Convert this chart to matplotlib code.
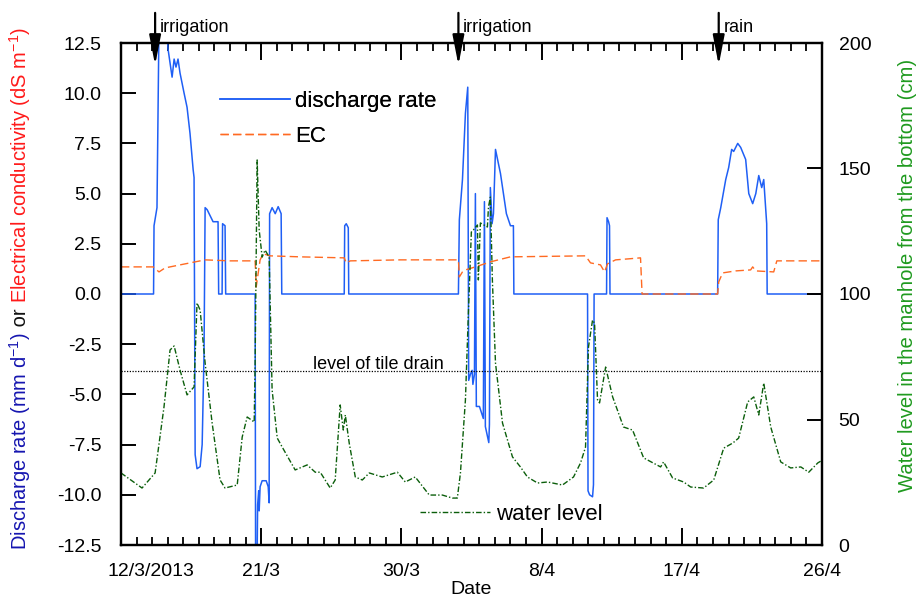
import matplotlib
matplotlib.use("Agg")
import matplotlib.pyplot as plt
import matplotlib.transforms as mtransforms
from matplotlib.ticker import MultipleLocator, FixedLocator

plt.rcParams['font.family'] = ['Liberation Sans', 'DejaVu Sans']
plt.rcParams['mathtext.fontset'] = 'custom'
plt.rcParams['mathtext.rm'] = 'Liberation Sans'
plt.rcParams['mathtext.it'] = 'Liberation Sans:italic'

# days since 12/3/2013
q_day = [0, 2.09, 2.12, 2.31, 2.44, 2.70, 2.96, 3.02, 3.15, 3.28, 3.41, 3.53, 3.66, 3.79,
         4.05, 4.24, 4.43, 4.63, 4.69, 4.76, 4.88, 5.08, 5.21, 5.33, 5.40, 5.53, 5.72, 5.91,
         6.23, 6.27, 6.49, 6.52, 6.68, 6.72, 8.61, 8.64, 8.74, 8.77, 8.84, 8.87, 8.93, 9.06,
         9.32, 9.45, 9.51, 9.54, 9.70, 9.90, 10.09, 10.28, 10.32, 14.33, 14.36, 14.46, 14.59,
         14.62, 21.66, 21.72, 21.92, 22.11, 22.26, 22.32, 22.43, 22.54, 22.59, 22.69, 22.75,
         22.81, 23.01, 23.26, 23.33, 23.39, 23.61, 23.65, 23.71, 23.82, 23.91, 24.04, 24.36,
         24.55, 24.74, 25.0, 25.19, 25.22, 29.95, 29.98, 30.08, 30.27, 30.33, 30.37, 31.17,
         31.20, 31.30, 31.36, 31.39, 38.30, 38.34, 38.50, 38.82, 39.01, 39.20, 39.33, 39.59,
         39.78, 40.10, 40.30, 40.55, 40.75, 40.94, 41.13, 41.26, 41.45, 41.48, 45.05]
q_val = [0, 0, 3.4, 4.3, 13.5, 14.5, 13.0, 12.2, 11.5, 10.8, 11.7, 11.3, 11.7, 11.0,
         10.0, 9.3, 8.0, 6.2, 5.8, -8.0, -8.7, -8.6, -7.5, -3.0, 4.3, 4.2, 3.9, 3.6,
         3.6, 0, 0, 3.5, 3.4, 0, 0, -13.0, -13.0, -10.5, -9.8, -10.8, -9.6, -9.3,
         -9.3, -9.6, -10.4, 4.0, 4.3, 4.0, 4.35, 4.0, 0, 0, 3.4, 3.5, 3.3,
         0, 0, 3.7, 5.7, 9.0, 10.3, -4.3, -4.0, -3.8, -4.5, -4.0, 5.0,
         -5.6, -5.6, -6.2, 4.6, -6.6, -7.4, -6.5, 5.3, 3.5, 4.0, 7.2, 6.0,
         5.0, 4.0, 3.4, 3.4, 0, 0, -9.8, -10.0, -10.1, -9.5, 0, 0,
         3.8, 3.6, 3.4, 0, 0, 3.7, 4.3, 5.7, 6.3, 7.2, 7.1, 7.5,
         7.3, 6.7, 5.0, 4.5, 5.0, 5.9, 5.3, 5.7, 3.5, 0, 0]

ec_day = [0, 2.06, 2.44, 2.83, 3.79, 4.76, 5.40, 7.0, 8.61, 8.68, 8.8, 8.93, 9.13, 9.58,
          11.5, 14.33, 14.46, 14.72, 17.93, 21.66, 21.72, 21.92, 22.11, 22.75, 23.71, 25.0,
          29.82, 30.14, 30.78, 31.04, 31.23, 31.75, 32.58, 33.35, 33.45, 38.30, 38.37, 38.62,
          39.46, 40.42, 40.55, 40.75, 41.9, 42.1, 45.05]
ec_val = [1.35, 1.35, 1.1, 1.3, 1.45, 1.6, 1.7, 1.65, 1.65, 0.35, 1.0, 1.7, 2.0, 1.9,
          1.85, 1.8, 1.55, 1.65, 1.7, 1.7, 0.85, 1.1, 1.2, 1.35, 1.6, 1.85,
          1.9, 1.55, 1.45, 1.1, 1.5, 1.7, 1.75, 1.8, 0.0, 0.0, 0.6, 1.05,
          1.15, 1.2, 1.35, 1.15, 1.1, 1.65, 1.65]

wl_day = [0, 1.35, 2.19, 2.76, 3.15, 3.41, 3.79, 4.24, 4.69, 4.88, 5.08, 5.40, 5.85, 6.36,
          6.68, 7.46, 7.78, 8.10, 8.55, 8.61, 8.74, 8.87, 9.06, 9.25, 9.51, 9.70, 10.03,
          10.35, 11.18, 11.95, 12.47, 12.79, 13.43, 13.75, 14.07, 14.27, 14.40, 14.65, 15.04,
          15.49, 15.94, 16.77, 17.74, 18.25, 18.89, 19.79, 20.63, 21.27, 21.59, 21.79, 22.11,
          22.30, 22.49, 22.62, 22.88, 22.94, 23.07, 23.52, 23.59, 23.71, 23.84, 24.04, 24.49,
          25.13, 25.64, 26.09, 26.74, 27.38, 28.34, 29.05, 29.50, 29.82, 30.01, 30.27, 30.40,
          30.59, 30.72, 31.11, 31.56, 32.26, 32.84, 33.55, 34.64, 34.83, 35.41, 36.12, 36.57,
          37.40, 38.05, 38.69, 39.27, 39.65, 40.23, 40.62, 40.94, 41.26, 41.71, 42.35, 42.99,
          43.64, 44.15, 44.73, 45.05]
wl_cm = [28.7, 22.7, 28.7, 55, 77.7, 79.3, 69.7, 59.8, 63, 96.4, 93.6, 72.5, 48.6, 25.9,
         22.7, 23.9, 43, 51, 49, 72.5, 153.4, 125.5, 114.7, 117.5, 114.7, 61.8, 42.6,
         39, 29.9, 31.9, 29, 29, 22.7, 25.9, 55.8, 45.8, 51.8, 40.6, 27.1,
         25.9, 28.7, 27.1, 29, 25.1, 27.1, 19.9, 19.9, 18.7, 18.7, 28.7, 57.8,
         92.4, 124.7, 125.5, 127.5, 105.6, 128.3, 126.7, 134.7, 138.6, 105.6, 72.5, 48.6,
         35.1, 31.1, 27.1, 24.7, 25.1, 23.9, 27.1, 32.7, 39, 78.9, 89.6, 88.4,
         57.8, 56.6, 70.9, 59, 47, 45.8, 34.7, 31.1, 33.1, 26.7, 25.1, 23.1,
         22.7, 25.9, 38.6, 40.6, 42.6, 57, 59, 51.8, 64.5, 47, 33.1, 30.7,
         31.1, 29, 32.7, 33.9]

tile_drain = -3.85
events = [(2.19, 'irrigation'), (21.66, 'irrigation'), (38.37, 'rain')]
date_ticks = [0, 9, 18, 27, 36, 45]
date_labels = ['12/3/2013', '21/3', '30/3', '8/4', '17/4', '26/4']
day_ticks = list(range(0, 46))

fig = plt.figure(figsize=(9.21, 5.99), dpi=100)
ax = fig.add_axes([121 / 921, 54 / 599, 701 / 921, 502 / 599])
ax2 = ax.twinx()

ax.plot(q_day, q_val, color='#1f5ff5', lw=1.1, label='discharge rate')
ax.plot(ec_day, ec_val, color='#ff6a22', lw=1.0, ls=(0, (6, 3)), label='EC')
ax.axhline(tile_drain, color='k', lw=0.9, ls=(0, (1, 1.2)))
ax.text(12.3, tile_drain + 0.12, 'level of tile drain', fontsize=13, va='baseline', ha='left')
ax2.plot(wl_day, wl_cm, color='#0b5e0b', lw=1.0, ls=(0, (4, 1.5, 1, 1.5)), label='water level')

ax.set_xlim(0, 45)
ax.set_ylim(-12.5, 12.5)
ax2.set_ylim(0, 200)

ax.xaxis.set_major_locator(FixedLocator(date_ticks))
ax.set_xticklabels(date_labels)
ax.xaxis.set_minor_locator(FixedLocator(day_ticks))
ax.yaxis.set_major_locator(MultipleLocator(2.5))
ax.yaxis.set_major_formatter(matplotlib.ticker.FormatStrFormatter('%.1f'))
ax2.yaxis.set_major_locator(MultipleLocator(50))

ax.tick_params(axis='x', which='both', direction='in', top=True, bottom=True,
               labelsize=14, pad=13)
ax.tick_params(axis='x', which='major', length=12, width=1.4)
ax.tick_params(axis='x', which='minor', length=5.5, width=1.3)
ax.tick_params(axis='y', direction='in', length=11, width=1.4, labelsize=14, pad=14)
ax2.tick_params(axis='y', direction='in', length=11, width=1.4, labelsize=14, pad=12)
for a in (ax, ax2):
    for s in a.spines.values():
        s.set_linewidth(1.6)

# first date label sits to the right of the axis corner
first = ax.get_xticklabels()[0]
first.set_transform(first.get_transform() + mtransforms.ScaledTranslation(30 / 100, 0, fig.dpi_scale_trans))

ax.set_xlabel('Date', fontsize=14, labelpad=1)

# in-plot legend entries
leg1 = ax.legend(handles=ax.get_lines()[:2], loc='upper left', bbox_to_anchor=(0.141, 0.905),
                 frameon=False, fontsize=16, handlelength=3.15, handletextpad=0.25,
                 labelspacing=0.65, borderpad=0, borderaxespad=0)
ax.add_artist(leg1)
ax2.legend(loc='lower left', bbox_to_anchor=(0.4265, 0.04), frameon=False, fontsize=16,
           handlelength=3.15, handletextpad=0.25, borderpad=0, borderaxespad=0)

# event arrows
for d, name in events:
    ax.annotate('', xy=(d, 0.956), xycoords=('data', 'axes fraction'),
                xytext=(d, 1.06), textcoords=('data', 'axes fraction'),
                arrowprops=dict(arrowstyle='-|>,head_length=0.82,head_width=0.16', color='k',
                                lw=1.6, shrinkA=0, shrinkB=0, mutation_scale=22),
                annotation_clip=False)
    ax.text(d + 0.3, 1.03, name, transform=ax.get_xaxis_transform(), fontsize=13,
            ha='left', va='center')

# right label
fig.text(907 / 921, (599 - 275) / 599, 'Water level in the manhole from the bottom (cm)',
         rotation=90, color='#1f9a1f', fontsize=14.6, ha='center', va='center')

# multi-coloured left label, built bottom to top
parts = [('Discharge rate (mm d$^{-1}$)', '#1515b0'), (' or ', '#111111'),
         ('Electrical conductivity (dS m$^{-1}$)', '#ff1a1a')]
fig.canvas.draw()
renderer = fig.canvas.get_renderer()
ypix = 49
for txt, col in parts:
    t = fig.text(20 / 921, ypix / 599, txt, rotation=90, color=col, fontsize=14.5,
                 ha='center', va='bottom')
    bb = t.get_window_extent(renderer)
    ypix += bb.height

fig.savefig('out.png', dpi=100)
